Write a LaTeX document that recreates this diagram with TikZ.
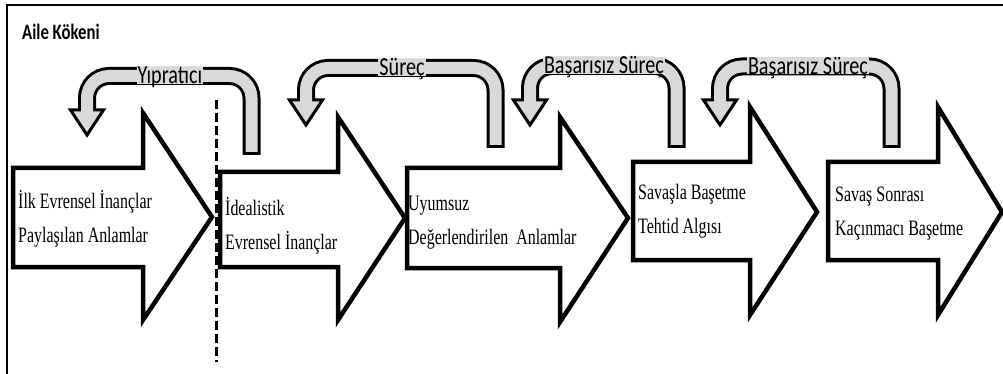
\documentclass[tikz,border=0pt]{standalone}
\usepackage{fontspec}
\usepackage{graphicx}
\setmainfont{Liberation Serif}
\newfontfamily\calfont{Carlito}
\definecolor{ugray}{HTML}{D9D9D9}

% Condensed text: tall letters in narrow boxes
\newcommand{\narrow}[2][0.725]{\scalebox{#1}[1]{#2}}
\newcommand{\twolines}[2]{\narrow{\begin{tabular}[t]{@{}l@{}}#1\\#2\end{tabular}}}

% U-turn arrow: #1 left leg x, #2 right leg x, #3 top y, #4 tail end y, #5 head base y
\newcommand{\uturnarrow}[5]{%
  \draw[line width=18pt, black, rounded corners=22pt]
    (#2,#4) -- (#2,#3) -- (#1,#3) -- (#1,#5);
  \filldraw[fill=ugray, draw=black, line width=3pt, line join=miter]
    (#1-16.5,#5) -- (#1+16.5,#5) -- (#1,#5+25) -- cycle;
  \draw[line width=12pt, ugray, rounded corners=22pt]
    (#2,#4-3) -- (#2,#3) -- (#1,#3) -- (#1,#5+2);
}

\tikzset{
  bigarrow/.style={draw=black, line width=4.5pt, fill=white, line join=miter},
  arrowtext/.style={anchor=base west, inner sep=0pt, font=\fontsize{22}{34}\selectfont},
  ulabel/.style={anchor=base, fill=ugray, inner xsep=1pt, inner ysep=0pt,
    text height=16.7pt, text depth=0pt, font=\calfont\fontsize{26}{30}\selectfont},
  frameline/.style={draw=black, line width=2pt},
  splitline/.style={draw=black, line width=3pt, dash pattern=on 9pt off 4pt}
}

\begin{document}
\begin{tikzpicture}[x=1pt, y=-1pt]
\useasboundingbox (0,0) rectangle (1003,374);

% outer frame
\draw[frameline] (7,374) -- (7,5) -- (1003,5);
\node[anchor=base west, inner sep=0pt, font=\calfont\bfseries\fontsize{22}{26}\selectfont]
  (title) at (22,40) {\narrow[0.76]{Aile Kökeni}};

% block arrows along the timeline
\draw[bigarrow] (13,168) -- (143,168) -- (143,113) -- (212,217) -- (143,320) -- (143,267) -- (13,267) -- cycle;
\draw[bigarrow] (220,172) -- (338,172) -- (338,117) -- (405,218) -- (338,320) -- (338,267) -- (220,267) -- cycle;
\draw[bigarrow] (407,168) -- (560,168) -- (560,117) -- (628,218) -- (560,322) -- (560,268) -- (407,268) -- cycle;
\draw[bigarrow] (633,162) -- (750,162) -- (750,107) -- (817,212) -- (750,315) -- (750,260) -- (633,260) -- cycle;
\draw[bigarrow] (828,162) -- (938,162) -- (938,107) -- (1002,212) -- (938,315) -- (938,260) -- (828,260) -- cycle;

\node[arrowtext] (t1) at (18,208) {\twolines{İlk Evrensel İnançlar}{Paylaşılan Anlamlar}};
\node[arrowtext] (t2) at (225,215) {\twolines{İdealistik}{Evrensel İnançlar}};
\node[arrowtext] (t3) at (408,210) {\twolines{Uyumsuz}{Değerlendirilen\ \ Anlamlar}};
\node[arrowtext] (t4) at (638,199) {\twolines{Savaşla Başetme}{Tehtid Algısı}};
\node[arrowtext] (t5) at (835,201) {\twolines{Savaş Sonrası}{Kaçınmacı Başetme}};

% dividing line
\draw[splitline] (216,100) -- (216,362);

% feedback U-turn arrows
\uturnarrow{87}{251.5}{76}{155}{110}
\uturnarrow{306}{495.5}{68}{148}{100}
\uturnarrow{530}{676.5}{66}{148}{100}
\uturnarrow{720}{891.5}{66.5}{148}{100}

\node[ulabel] (lA) at (170,83.7) {\narrow[0.775]{Yıpratıcı}};
\node[ulabel] (lB) at (402,75.7) {\narrow[0.775]{Süreç}};
\node[ulabel] (lC) at (604,73.7) {\narrow[0.775]{Başarısız Süreç}};
\node[ulabel] (lD) at (808,74.2) {\narrow[0.775]{Başarısız Süreç}};
\end{tikzpicture}
\end{document}
